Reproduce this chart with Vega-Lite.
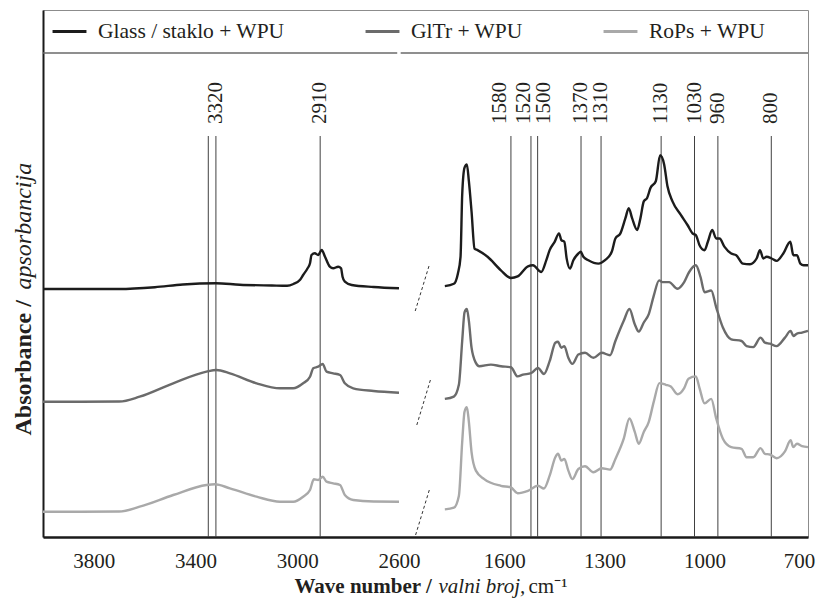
{
  "$schema": "https://vega.github.io/schema/vega-lite/v6.json",
  "width": 765,
  "height": 527,
  "autosize": {"type": "none"},
  "padding": {"left": 43, "top": 10, "right": 9, "bottom": 69},
  "background": "white",
  "config": {
    "font": "Liberation Serif",
    "view": {"stroke": "#8c8c8c", "strokeWidth": 1},
    "axis": {"grid": false, "ticks": false, "tickSize": 0, "labelFont": "Liberation Serif", "titleFont": "Liberation Serif", "labelColor": "#231f20", "titleColor": "#231f20", "titleFontSize": 21},
    "legend": {"orient": "none", "legendX": 8, "legendY": 3, "direction": "horizontal", "columns": 3, "columnPadding": 74, "symbolType": "stroke", "symbolSize": 1150, "symbolStrokeWidth": 3, "labelFont": "Liberation Serif", "labelFontSize": 21.5, "labelColor": "#231f20", "labelOffset": 10, "padding": 0, "labelLimit": 400}
  },
  "datasets": {
    "peaks": [
      {"wavenumber": 3350, "label": ""},
      {"wavenumber": 3320, "label": "3320"},
      {"wavenumber": 2910, "label": "2910"},
      {"wavenumber": 1580, "label": "1580"},
      {"wavenumber": 1520, "label": "1520"},
      {"wavenumber": 1500, "label": "1500"},
      {"wavenumber": 1370, "label": "1370"},
      {"wavenumber": 1310, "label": "1310"},
      {"wavenumber": 1130, "label": "1130"},
      {"wavenumber": 1030, "label": "1030"},
      {"wavenumber": 960, "label": "960"},
      {"wavenumber": 800, "label": "800"}
    ],
    "spectra": [
      {"sample": "Glass / staklo + WPU", "region": "L", "wavenumber": 4000, "absorbance": 248},
      {"sample": "Glass / staklo + WPU", "region": "L", "wavenumber": 3850, "absorbance": 248},
      {"sample": "Glass / staklo + WPU", "region": "L", "wavenumber": 3700, "absorbance": 248},
      {"sample": "Glass / staklo + WPU", "region": "L", "wavenumber": 3560, "absorbance": 249.8},
      {"sample": "Glass / staklo + WPU", "region": "L", "wavenumber": 3450, "absorbance": 252.5},
      {"sample": "Glass / staklo + WPU", "region": "L", "wavenumber": 3320, "absorbance": 253.7},
      {"sample": "Glass / staklo + WPU", "region": "L", "wavenumber": 3226, "absorbance": 252.3},
      {"sample": "Glass / staklo + WPU", "region": "L", "wavenumber": 3100, "absorbance": 251.5},
      {"sample": "Glass / staklo + WPU", "region": "L", "wavenumber": 3040, "absorbance": 251.2},
      {"sample": "Glass / staklo + WPU", "region": "L", "wavenumber": 3015, "absorbance": 253},
      {"sample": "Glass / staklo + WPU", "region": "L", "wavenumber": 2990, "absorbance": 257},
      {"sample": "Glass / staklo + WPU", "region": "L", "wavenumber": 2977, "absorbance": 262},
      {"sample": "Glass / staklo + WPU", "region": "L", "wavenumber": 2960, "absorbance": 268.5},
      {"sample": "Glass / staklo + WPU", "region": "L", "wavenumber": 2950, "absorbance": 273.7},
      {"sample": "Glass / staklo + WPU", "region": "L", "wavenumber": 2944, "absorbance": 282},
      {"sample": "Glass / staklo + WPU", "region": "L", "wavenumber": 2931, "absorbance": 283.7},
      {"sample": "Glass / staklo + WPU", "region": "L", "wavenumber": 2918, "absorbance": 282},
      {"sample": "Glass / staklo + WPU", "region": "L", "wavenumber": 2904, "absorbance": 287},
      {"sample": "Glass / staklo + WPU", "region": "L", "wavenumber": 2891, "absorbance": 280.3},
      {"sample": "Glass / staklo + WPU", "region": "L", "wavenumber": 2872, "absorbance": 270.3},
      {"sample": "Glass / staklo + WPU", "region": "L", "wavenumber": 2859, "absorbance": 268.7},
      {"sample": "Glass / staklo + WPU", "region": "L", "wavenumber": 2839, "absorbance": 270.3},
      {"sample": "Glass / staklo + WPU", "region": "L", "wavenumber": 2828, "absorbance": 268.7},
      {"sample": "Glass / staklo + WPU", "region": "L", "wavenumber": 2822, "absorbance": 260.3},
      {"sample": "Glass / staklo + WPU", "region": "L", "wavenumber": 2813, "absorbance": 255.3},
      {"sample": "Glass / staklo + WPU", "region": "L", "wavenumber": 2786, "absorbance": 252},
      {"sample": "Glass / staklo + WPU", "region": "L", "wavenumber": 2700, "absorbance": 250},
      {"sample": "Glass / staklo + WPU", "region": "L", "wavenumber": 2600, "absorbance": 248.7},
      {"sample": "Glass / staklo + WPU", "region": "R", "wavenumber": 1778, "absorbance": 250.9},
      {"sample": "Glass / staklo + WPU", "region": "R", "wavenumber": 1751, "absorbance": 253.2},
      {"sample": "Glass / staklo + WPU", "region": "R", "wavenumber": 1739, "absorbance": 263.3},
      {"sample": "Glass / staklo + WPU", "region": "R", "wavenumber": 1731, "absorbance": 280.2},
      {"sample": "Glass / staklo + WPU", "region": "R", "wavenumber": 1726, "absorbance": 342.3},
      {"sample": "Glass / staklo + WPU", "region": "R", "wavenumber": 1719, "absorbance": 369.3},
      {"sample": "Glass / staklo + WPU", "region": "R", "wavenumber": 1712, "absorbance": 372.6},
      {"sample": "Glass / staklo + WPU", "region": "R", "wavenumber": 1706, "absorbance": 355.8},
      {"sample": "Glass / staklo + WPU", "region": "R", "wavenumber": 1698, "absorbance": 325.5},
      {"sample": "Glass / staklo + WPU", "region": "R", "wavenumber": 1689, "absorbance": 288.4},
      {"sample": "Glass / staklo + WPU", "region": "R", "wavenumber": 1680, "absorbance": 286.9},
      {"sample": "Glass / staklo + WPU", "region": "R", "wavenumber": 1650, "absorbance": 280.2},
      {"sample": "Glass / staklo + WPU", "region": "R", "wavenumber": 1610, "absorbance": 266.7},
      {"sample": "Glass / staklo + WPU", "region": "R", "wavenumber": 1580, "absorbance": 259},
      {"sample": "Glass / staklo + WPU", "region": "R", "wavenumber": 1560, "absorbance": 260.6},
      {"sample": "Glass / staklo + WPU", "region": "R", "wavenumber": 1529, "absorbance": 270.7},
      {"sample": "Glass / staklo + WPU", "region": "R", "wavenumber": 1514, "absorbance": 271.7},
      {"sample": "Glass / staklo + WPU", "region": "R", "wavenumber": 1489, "absorbance": 265},
      {"sample": "Glass / staklo + WPU", "region": "R", "wavenumber": 1474, "absorbance": 276.8},
      {"sample": "Glass / staklo + WPU", "region": "R", "wavenumber": 1464, "absorbance": 286.9},
      {"sample": "Glass / staklo + WPU", "region": "R", "wavenumber": 1449, "absorbance": 295.2},
      {"sample": "Glass / staklo + WPU", "region": "R", "wavenumber": 1436, "absorbance": 303.6},
      {"sample": "Glass / staklo + WPU", "region": "R", "wavenumber": 1429, "absorbance": 296.9},
      {"sample": "Glass / staklo + WPU", "region": "R", "wavenumber": 1420, "absorbance": 295.2},
      {"sample": "Glass / staklo + WPU", "region": "R", "wavenumber": 1413, "absorbance": 278.4},
      {"sample": "Glass / staklo + WPU", "region": "R", "wavenumber": 1403, "absorbance": 268.4},
      {"sample": "Glass / staklo + WPU", "region": "R", "wavenumber": 1393, "absorbance": 276.8},
      {"sample": "Glass / staklo + WPU", "region": "R", "wavenumber": 1378, "absorbance": 283.5},
      {"sample": "Glass / staklo + WPU", "region": "R", "wavenumber": 1371, "absorbance": 285.2},
      {"sample": "Glass / staklo + WPU", "region": "R", "wavenumber": 1363, "absorbance": 280.2},
      {"sample": "Glass / staklo + WPU", "region": "R", "wavenumber": 1348, "absorbance": 276.8},
      {"sample": "Glass / staklo + WPU", "region": "R", "wavenumber": 1318, "absorbance": 273.4},
      {"sample": "Glass / staklo + WPU", "region": "R", "wavenumber": 1298, "absorbance": 276.8},
      {"sample": "Glass / staklo + WPU", "region": "R", "wavenumber": 1278, "absorbance": 285.2},
      {"sample": "Glass / staklo + WPU", "region": "R", "wavenumber": 1267, "absorbance": 298.5},
      {"sample": "Glass / staklo + WPU", "region": "R", "wavenumber": 1252, "absorbance": 303.6},
      {"sample": "Glass / staklo + WPU", "region": "R", "wavenumber": 1237, "absorbance": 318.8},
      {"sample": "Glass / staklo + WPU", "region": "R", "wavenumber": 1227, "absorbance": 328.9},
      {"sample": "Glass / staklo + WPU", "region": "R", "wavenumber": 1217, "absorbance": 318.8},
      {"sample": "Glass / staklo + WPU", "region": "R", "wavenumber": 1202, "absorbance": 307},
      {"sample": "Glass / staklo + WPU", "region": "R", "wavenumber": 1192, "absorbance": 318.8},
      {"sample": "Glass / staklo + WPU", "region": "R", "wavenumber": 1182, "absorbance": 335.6},
      {"sample": "Glass / staklo + WPU", "region": "R", "wavenumber": 1172, "absorbance": 339},
      {"sample": "Glass / staklo + WPU", "region": "R", "wavenumber": 1162, "absorbance": 349},
      {"sample": "Glass / staklo + WPU", "region": "R", "wavenumber": 1146, "absorbance": 355.8},
      {"sample": "Glass / staklo + WPU", "region": "R", "wavenumber": 1133, "absorbance": 381.7},
      {"sample": "Glass / staklo + WPU", "region": "R", "wavenumber": 1121, "absorbance": 372.6},
      {"sample": "Glass / staklo + WPU", "region": "R", "wavenumber": 1111, "absorbance": 350.7},
      {"sample": "Glass / staklo + WPU", "region": "R", "wavenumber": 1096, "absorbance": 335.6},
      {"sample": "Glass / staklo + WPU", "region": "R", "wavenumber": 1071, "absorbance": 322.1},
      {"sample": "Glass / staklo + WPU", "region": "R", "wavenumber": 1051, "absorbance": 312},
      {"sample": "Glass / staklo + WPU", "region": "R", "wavenumber": 1036, "absorbance": 303.6},
      {"sample": "Glass / staklo + WPU", "region": "R", "wavenumber": 1026, "absorbance": 301.9},
      {"sample": "Glass / staklo + WPU", "region": "R", "wavenumber": 1015, "absorbance": 291.8},
      {"sample": "Glass / staklo + WPU", "region": "R", "wavenumber": 1000, "absorbance": 286.8},
      {"sample": "Glass / staklo + WPU", "region": "R", "wavenumber": 990, "absorbance": 295.2},
      {"sample": "Glass / staklo + WPU", "region": "R", "wavenumber": 977, "absorbance": 307},
      {"sample": "Glass / staklo + WPU", "region": "R", "wavenumber": 965, "absorbance": 298.5},
      {"sample": "Glass / staklo + WPU", "region": "R", "wavenumber": 955, "absorbance": 298.5},
      {"sample": "Glass / staklo + WPU", "region": "R", "wavenumber": 940, "absorbance": 290.1},
      {"sample": "Glass / staklo + WPU", "region": "R", "wavenumber": 920, "absorbance": 283.4},
      {"sample": "Glass / staklo + WPU", "region": "R", "wavenumber": 905, "absorbance": 281.8},
      {"sample": "Glass / staklo + WPU", "region": "R", "wavenumber": 885, "absorbance": 273.4},
      {"sample": "Glass / staklo + WPU", "region": "R", "wavenumber": 864, "absorbance": 272.8},
      {"sample": "Glass / staklo + WPU", "region": "R", "wavenumber": 844, "absorbance": 278.5},
      {"sample": "Glass / staklo + WPU", "region": "R", "wavenumber": 834, "absorbance": 286.9},
      {"sample": "Glass / staklo + WPU", "region": "R", "wavenumber": 824, "absorbance": 278.5},
      {"sample": "Glass / staklo + WPU", "region": "R", "wavenumber": 814, "absorbance": 280.2},
      {"sample": "Glass / staklo + WPU", "region": "R", "wavenumber": 799, "absorbance": 278.5},
      {"sample": "Glass / staklo + WPU", "region": "R", "wavenumber": 784, "absorbance": 276.1},
      {"sample": "Glass / staklo + WPU", "region": "R", "wavenumber": 764, "absorbance": 283.5},
      {"sample": "Glass / staklo + WPU", "region": "R", "wavenumber": 743, "absorbance": 295.3},
      {"sample": "Glass / staklo + WPU", "region": "R", "wavenumber": 734, "absorbance": 281.8},
      {"sample": "Glass / staklo + WPU", "region": "R", "wavenumber": 723, "absorbance": 281.8},
      {"sample": "Glass / staklo + WPU", "region": "R", "wavenumber": 713, "absorbance": 273.4},
      {"sample": "Glass / staklo + WPU", "region": "R", "wavenumber": 703, "absorbance": 271.7},
      {"sample": "Glass / staklo + WPU", "region": "R", "wavenumber": 690, "absorbance": 271.7},

      {"sample": "GlTr + WPU", "region": "L", "wavenumber": 4000, "absorbance": 135.3},
      {"sample": "GlTr + WPU", "region": "L", "wavenumber": 3850, "absorbance": 135.3},
      {"sample": "GlTr + WPU", "region": "L", "wavenumber": 3700, "absorbance": 135.5},
      {"sample": "GlTr + WPU", "region": "L", "wavenumber": 3620, "absorbance": 140.3},
      {"sample": "GlTr + WPU", "region": "L", "wavenumber": 3488, "absorbance": 153.7},
      {"sample": "GlTr + WPU", "region": "L", "wavenumber": 3357, "absorbance": 165.3},
      {"sample": "GlTr + WPU", "region": "L", "wavenumber": 3318, "absorbance": 167},
      {"sample": "GlTr + WPU", "region": "L", "wavenumber": 3265, "absorbance": 163.7},
      {"sample": "GlTr + WPU", "region": "L", "wavenumber": 3160, "absorbance": 153.7},
      {"sample": "GlTr + WPU", "region": "L", "wavenumber": 3068, "absorbance": 148.7},
      {"sample": "GlTr + WPU", "region": "L", "wavenumber": 3016, "absorbance": 148.7},
      {"sample": "GlTr + WPU", "region": "L", "wavenumber": 2977, "absorbance": 153.7},
      {"sample": "GlTr + WPU", "region": "L", "wavenumber": 2950, "absorbance": 160.3},
      {"sample": "GlTr + WPU", "region": "L", "wavenumber": 2937, "absorbance": 168.7},
      {"sample": "GlTr + WPU", "region": "L", "wavenumber": 2918, "absorbance": 170.3},
      {"sample": "GlTr + WPU", "region": "L", "wavenumber": 2900, "absorbance": 173},
      {"sample": "GlTr + WPU", "region": "L", "wavenumber": 2885, "absorbance": 165.3},
      {"sample": "GlTr + WPU", "region": "L", "wavenumber": 2859, "absorbance": 163.7},
      {"sample": "GlTr + WPU", "region": "L", "wavenumber": 2832, "absorbance": 162},
      {"sample": "GlTr + WPU", "region": "L", "wavenumber": 2813, "absorbance": 153.7},
      {"sample": "GlTr + WPU", "region": "L", "wavenumber": 2780, "absorbance": 148.7},
      {"sample": "GlTr + WPU", "region": "L", "wavenumber": 2700, "absorbance": 146},
      {"sample": "GlTr + WPU", "region": "L", "wavenumber": 2600, "absorbance": 144.3},
      {"sample": "GlTr + WPU", "region": "R", "wavenumber": 1778, "absorbance": 138.1},
      {"sample": "GlTr + WPU", "region": "R", "wavenumber": 1751, "absorbance": 140.4},
      {"sample": "GlTr + WPU", "region": "R", "wavenumber": 1736, "absorbance": 152.2},
      {"sample": "GlTr + WPU", "region": "R", "wavenumber": 1726, "absorbance": 196},
      {"sample": "GlTr + WPU", "region": "R", "wavenumber": 1719, "absorbance": 224.6},
      {"sample": "GlTr + WPU", "region": "R", "wavenumber": 1712, "absorbance": 228},
      {"sample": "GlTr + WPU", "region": "R", "wavenumber": 1706, "absorbance": 216.2},
      {"sample": "GlTr + WPU", "region": "R", "wavenumber": 1698, "absorbance": 189.3},
      {"sample": "GlTr + WPU", "region": "R", "wavenumber": 1685, "absorbance": 174.1},
      {"sample": "GlTr + WPU", "region": "R", "wavenumber": 1675, "absorbance": 170.7},
      {"sample": "GlTr + WPU", "region": "R", "wavenumber": 1640, "absorbance": 172.4},
      {"sample": "GlTr + WPU", "region": "R", "wavenumber": 1610, "absorbance": 170.7},
      {"sample": "GlTr + WPU", "region": "R", "wavenumber": 1580, "absorbance": 169.7},
      {"sample": "GlTr + WPU", "region": "R", "wavenumber": 1560, "absorbance": 160.6},
      {"sample": "GlTr + WPU", "region": "R", "wavenumber": 1544, "absorbance": 162.3},
      {"sample": "GlTr + WPU", "region": "R", "wavenumber": 1519, "absorbance": 164},
      {"sample": "GlTr + WPU", "region": "R", "wavenumber": 1499, "absorbance": 169},
      {"sample": "GlTr + WPU", "region": "R", "wavenumber": 1481, "absorbance": 163},
      {"sample": "GlTr + WPU", "region": "R", "wavenumber": 1464, "absorbance": 175.8},
      {"sample": "GlTr + WPU", "region": "R", "wavenumber": 1447, "absorbance": 194.3},
      {"sample": "GlTr + WPU", "region": "R", "wavenumber": 1439, "absorbance": 195.3},
      {"sample": "GlTr + WPU", "region": "R", "wavenumber": 1429, "absorbance": 189.3},
      {"sample": "GlTr + WPU", "region": "R", "wavenumber": 1420, "absorbance": 190.9},
      {"sample": "GlTr + WPU", "region": "R", "wavenumber": 1408, "absorbance": 179.2},
      {"sample": "GlTr + WPU", "region": "R", "wavenumber": 1396, "absorbance": 173.1},
      {"sample": "GlTr + WPU", "region": "R", "wavenumber": 1378, "absorbance": 182.5},
      {"sample": "GlTr + WPU", "region": "R", "wavenumber": 1358, "absorbance": 184.2},
      {"sample": "GlTr + WPU", "region": "R", "wavenumber": 1333, "absorbance": 179.2},
      {"sample": "GlTr + WPU", "region": "R", "wavenumber": 1308, "absorbance": 184.2},
      {"sample": "GlTr + WPU", "region": "R", "wavenumber": 1283, "absorbance": 181.8},
      {"sample": "GlTr + WPU", "region": "R", "wavenumber": 1267, "absorbance": 196},
      {"sample": "GlTr + WPU", "region": "R", "wavenumber": 1242, "absorbance": 216.2},
      {"sample": "GlTr + WPU", "region": "R", "wavenumber": 1225, "absorbance": 228},
      {"sample": "GlTr + WPU", "region": "R", "wavenumber": 1209, "absorbance": 212.8},
      {"sample": "GlTr + WPU", "region": "R", "wavenumber": 1197, "absorbance": 205.4},
      {"sample": "GlTr + WPU", "region": "R", "wavenumber": 1182, "absorbance": 214.5},
      {"sample": "GlTr + WPU", "region": "R", "wavenumber": 1167, "absorbance": 222.9},
      {"sample": "GlTr + WPU", "region": "R", "wavenumber": 1152, "absorbance": 241.4},
      {"sample": "GlTr + WPU", "region": "R", "wavenumber": 1136, "absorbance": 256.6},
      {"sample": "GlTr + WPU", "region": "R", "wavenumber": 1126, "absorbance": 254.9},
      {"sample": "GlTr + WPU", "region": "R", "wavenumber": 1106, "absorbance": 254.9},
      {"sample": "GlTr + WPU", "region": "R", "wavenumber": 1081, "absorbance": 248.2},
      {"sample": "GlTr + WPU", "region": "R", "wavenumber": 1061, "absorbance": 254.9},
      {"sample": "GlTr + WPU", "region": "R", "wavenumber": 1046, "absorbance": 265},
      {"sample": "GlTr + WPU", "region": "R", "wavenumber": 1026, "absorbance": 271.7},
      {"sample": "GlTr + WPU", "region": "R", "wavenumber": 1012, "absorbance": 260},
      {"sample": "GlTr + WPU", "region": "R", "wavenumber": 1000, "absorbance": 244.8},
      {"sample": "GlTr + WPU", "region": "R", "wavenumber": 980, "absorbance": 246.5},
      {"sample": "GlTr + WPU", "region": "R", "wavenumber": 965, "absorbance": 229.7},
      {"sample": "GlTr + WPU", "region": "R", "wavenumber": 945, "absorbance": 209.5},
      {"sample": "GlTr + WPU", "region": "R", "wavenumber": 920, "absorbance": 197.7},
      {"sample": "GlTr + WPU", "region": "R", "wavenumber": 889, "absorbance": 196},
      {"sample": "GlTr + WPU", "region": "R", "wavenumber": 874, "absorbance": 190.9},
      {"sample": "GlTr + WPU", "region": "R", "wavenumber": 854, "absorbance": 189.9},
      {"sample": "GlTr + WPU", "region": "R", "wavenumber": 832, "absorbance": 199.4},
      {"sample": "GlTr + WPU", "region": "R", "wavenumber": 819, "absorbance": 194.3},
      {"sample": "GlTr + WPU", "region": "R", "wavenumber": 804, "absorbance": 193.3},
      {"sample": "GlTr + WPU", "region": "R", "wavenumber": 784, "absorbance": 190.9},
      {"sample": "GlTr + WPU", "region": "R", "wavenumber": 759, "absorbance": 199.4},
      {"sample": "GlTr + WPU", "region": "R", "wavenumber": 742, "absorbance": 206.1},
      {"sample": "GlTr + WPU", "region": "R", "wavenumber": 734, "absorbance": 201},
      {"sample": "GlTr + WPU", "region": "R", "wavenumber": 723, "absorbance": 203.4},
      {"sample": "GlTr + WPU", "region": "R", "wavenumber": 708, "absorbance": 204.4},
      {"sample": "GlTr + WPU", "region": "R", "wavenumber": 690, "absorbance": 206.1},

      {"sample": "RoPs + WPU", "region": "L", "wavenumber": 4000, "absorbance": 25.3},
      {"sample": "RoPs + WPU", "region": "L", "wavenumber": 3850, "absorbance": 25.3},
      {"sample": "RoPs + WPU", "region": "L", "wavenumber": 3700, "absorbance": 25.5},
      {"sample": "RoPs + WPU", "region": "L", "wavenumber": 3620, "absorbance": 30.3},
      {"sample": "RoPs + WPU", "region": "L", "wavenumber": 3488, "absorbance": 42},
      {"sample": "RoPs + WPU", "region": "L", "wavenumber": 3357, "absorbance": 52},
      {"sample": "RoPs + WPU", "region": "L", "wavenumber": 3324, "absorbance": 52.7},
      {"sample": "RoPs + WPU", "region": "L", "wavenumber": 3265, "absorbance": 48.7},
      {"sample": "RoPs + WPU", "region": "L", "wavenumber": 3160, "absorbance": 40.3},
      {"sample": "RoPs + WPU", "region": "L", "wavenumber": 3068, "absorbance": 35.3},
      {"sample": "RoPs + WPU", "region": "L", "wavenumber": 3016, "absorbance": 35.3},
      {"sample": "RoPs + WPU", "region": "L", "wavenumber": 2977, "absorbance": 40.3},
      {"sample": "RoPs + WPU", "region": "L", "wavenumber": 2950, "absorbance": 47},
      {"sample": "RoPs + WPU", "region": "L", "wavenumber": 2935, "absorbance": 57.7},
      {"sample": "RoPs + WPU", "region": "L", "wavenumber": 2918, "absorbance": 57},
      {"sample": "RoPs + WPU", "region": "L", "wavenumber": 2900, "absorbance": 60.3},
      {"sample": "RoPs + WPU", "region": "L", "wavenumber": 2885, "absorbance": 55.3},
      {"sample": "RoPs + WPU", "region": "L", "wavenumber": 2859, "absorbance": 53.7},
      {"sample": "RoPs + WPU", "region": "L", "wavenumber": 2832, "absorbance": 52},
      {"sample": "RoPs + WPU", "region": "L", "wavenumber": 2813, "absorbance": 42},
      {"sample": "RoPs + WPU", "region": "L", "wavenumber": 2780, "absorbance": 37},
      {"sample": "RoPs + WPU", "region": "L", "wavenumber": 2700, "absorbance": 35.5},
      {"sample": "RoPs + WPU", "region": "L", "wavenumber": 2600, "absorbance": 35.3},
      {"sample": "RoPs + WPU", "region": "R", "wavenumber": 1778, "absorbance": 27.6},
      {"sample": "RoPs + WPU", "region": "R", "wavenumber": 1751, "absorbance": 29.3},
      {"sample": "RoPs + WPU", "region": "R", "wavenumber": 1736, "absorbance": 41.1},
      {"sample": "RoPs + WPU", "region": "R", "wavenumber": 1726, "absorbance": 95},
      {"sample": "RoPs + WPU", "region": "R", "wavenumber": 1719, "absorbance": 125.3},
      {"sample": "RoPs + WPU", "region": "R", "wavenumber": 1712, "absorbance": 129.7},
      {"sample": "RoPs + WPU", "region": "R", "wavenumber": 1706, "absorbance": 115.2},
      {"sample": "RoPs + WPU", "region": "R", "wavenumber": 1698, "absorbance": 84.9},
      {"sample": "RoPs + WPU", "region": "R", "wavenumber": 1685, "absorbance": 66.4},
      {"sample": "RoPs + WPU", "region": "R", "wavenumber": 1660, "absorbance": 57.9},
      {"sample": "RoPs + WPU", "region": "R", "wavenumber": 1610, "absorbance": 51.2},
      {"sample": "RoPs + WPU", "region": "R", "wavenumber": 1580, "absorbance": 49.5},
      {"sample": "RoPs + WPU", "region": "R", "wavenumber": 1560, "absorbance": 43.8},
      {"sample": "RoPs + WPU", "region": "R", "wavenumber": 1529, "absorbance": 46.2},
      {"sample": "RoPs + WPU", "region": "R", "wavenumber": 1499, "absorbance": 51.2},
      {"sample": "RoPs + WPU", "region": "R", "wavenumber": 1481, "absorbance": 48.5},
      {"sample": "RoPs + WPU", "region": "R", "wavenumber": 1464, "absorbance": 61.3},
      {"sample": "RoPs + WPU", "region": "R", "wavenumber": 1447, "absorbance": 79.8},
      {"sample": "RoPs + WPU", "region": "R", "wavenumber": 1439, "absorbance": 83.2},
      {"sample": "RoPs + WPU", "region": "R", "wavenumber": 1429, "absorbance": 76.5},
      {"sample": "RoPs + WPU", "region": "R", "wavenumber": 1420, "absorbance": 78.1},
      {"sample": "RoPs + WPU", "region": "R", "wavenumber": 1408, "absorbance": 66.4},
      {"sample": "RoPs + WPU", "region": "R", "wavenumber": 1396, "absorbance": 57.9},
      {"sample": "RoPs + WPU", "region": "R", "wavenumber": 1378, "absorbance": 68},
      {"sample": "RoPs + WPU", "region": "R", "wavenumber": 1358, "absorbance": 70.7},
      {"sample": "RoPs + WPU", "region": "R", "wavenumber": 1333, "absorbance": 64.7},
      {"sample": "RoPs + WPU", "region": "R", "wavenumber": 1308, "absorbance": 68.7},
      {"sample": "RoPs + WPU", "region": "R", "wavenumber": 1283, "absorbance": 67.4},
      {"sample": "RoPs + WPU", "region": "R", "wavenumber": 1267, "absorbance": 78.1},
      {"sample": "RoPs + WPU", "region": "R", "wavenumber": 1242, "absorbance": 98.3},
      {"sample": "RoPs + WPU", "region": "R", "wavenumber": 1225, "absorbance": 118.5},
      {"sample": "RoPs + WPU", "region": "R", "wavenumber": 1209, "absorbance": 105.1},
      {"sample": "RoPs + WPU", "region": "R", "wavenumber": 1197, "absorbance": 93.3},
      {"sample": "RoPs + WPU", "region": "R", "wavenumber": 1182, "absorbance": 105.1},
      {"sample": "RoPs + WPU", "region": "R", "wavenumber": 1167, "absorbance": 115.2},
      {"sample": "RoPs + WPU", "region": "R", "wavenumber": 1152, "absorbance": 135.4},
      {"sample": "RoPs + WPU", "region": "R", "wavenumber": 1135, "absorbance": 153.9},
      {"sample": "RoPs + WPU", "region": "R", "wavenumber": 1116, "absorbance": 152.2},
      {"sample": "RoPs + WPU", "region": "R", "wavenumber": 1101, "absorbance": 150.5},
      {"sample": "RoPs + WPU", "region": "R", "wavenumber": 1081, "absorbance": 142.8},
      {"sample": "RoPs + WPU", "region": "R", "wavenumber": 1061, "absorbance": 148.9},
      {"sample": "RoPs + WPU", "region": "R", "wavenumber": 1048, "absorbance": 158.3},
      {"sample": "RoPs + WPU", "region": "R", "wavenumber": 1026, "absorbance": 160.6},
      {"sample": "RoPs + WPU", "region": "R", "wavenumber": 1015, "absorbance": 148.9},
      {"sample": "RoPs + WPU", "region": "R", "wavenumber": 1000, "absorbance": 133.7},
      {"sample": "RoPs + WPU", "region": "R", "wavenumber": 980, "absorbance": 138.1},
      {"sample": "RoPs + WPU", "region": "R", "wavenumber": 965, "absorbance": 118.5},
      {"sample": "RoPs + WPU", "region": "R", "wavenumber": 945, "absorbance": 98.3},
      {"sample": "RoPs + WPU", "region": "R", "wavenumber": 920, "absorbance": 89.9},
      {"sample": "RoPs + WPU", "region": "R", "wavenumber": 889, "absorbance": 88.2},
      {"sample": "RoPs + WPU", "region": "R", "wavenumber": 874, "absorbance": 79.8},
      {"sample": "RoPs + WPU", "region": "R", "wavenumber": 854, "absorbance": 79.8},
      {"sample": "RoPs + WPU", "region": "R", "wavenumber": 832, "absorbance": 88.9},
      {"sample": "RoPs + WPU", "region": "R", "wavenumber": 819, "absorbance": 83.2},
      {"sample": "RoPs + WPU", "region": "R", "wavenumber": 804, "absorbance": 82.5},
      {"sample": "RoPs + WPU", "region": "R", "wavenumber": 784, "absorbance": 78.8},
      {"sample": "RoPs + WPU", "region": "R", "wavenumber": 759, "absorbance": 85.6},
      {"sample": "RoPs + WPU", "region": "R", "wavenumber": 742, "absorbance": 96.7},
      {"sample": "RoPs + WPU", "region": "R", "wavenumber": 734, "absorbance": 89.9},
      {"sample": "RoPs + WPU", "region": "R", "wavenumber": 723, "absorbance": 93.3},
      {"sample": "RoPs + WPU", "region": "R", "wavenumber": 708, "absorbance": 90.9},
      {"sample": "RoPs + WPU", "region": "R", "wavenumber": 690, "absorbance": 89.9}
    ]
  },
  "layer": [
    {
      "data": {"name": "peaks"},
      "mark": {"type": "rule", "color": "#404040", "strokeWidth": 1},
      "encoding": {
        "x": {"field": "wavenumber", "type": "quantitative",
          "axis": {"orient": "bottom", "labels": false, "domain": false, "title": "valni broj,", "titleFontStyle": "italic", "titleFontWeight": "normal", "titleX": 395, "titleY": 55, "titleAlign": "left", "titleBaseline": "alphabetic"}},
        "y": {"datum": 401,
          "axis": {"orient": "left", "labels": false, "domain": false, "title": "apsorbancija", "titleFontStyle": "italic", "titleFontWeight": "normal", "titleFontSize": 24, "titleAngle": 270, "titleX": -12.6, "titleY": 279, "titleAlign": "left", "titleBaseline": "alphabetic"}},
        "y2": {"datum": 0}
      }
    },
    {
      "data": {"name": "peaks"},
      "transform": [{"filter": "datum.label !== '' && datum.label !== '1580' && datum.label !== '1520' && datum.label !== '1500'"}],
      "mark": {"type": "text", "angle": 270, "align": "left", "baseline": "middle", "fontSize": 21, "color": "#231f20", "font": "Liberation Serif"},
      "encoding": {
        "x": {"field": "wavenumber", "type": "quantitative",
          "axis": {"orient": "bottom", "labels": false, "domain": false, "title": "cm⁻¹", "titleFontWeight": "normal", "titleX": 485, "titleY": 55, "titleAlign": "left", "titleBaseline": "alphabetic"}},
        "y": {"datum": 413, "axis": null},
        "text": {"field": "label"}
      }
    },
    {
      "data": {"name": "peaks"},
      "transform": [{"filter": "datum.label === '1580'"}],
      "mark": {"type": "text", "angle": 270, "align": "left", "baseline": "middle", "fontSize": 21, "color": "#231f20", "font": "Liberation Serif", "dy": -11},
      "encoding": {
        "x": {"field": "wavenumber", "type": "quantitative", "axis": null},
        "y": {"datum": 413, "axis": null},
        "text": {"field": "label"}
      }
    },
    {
      "data": {"name": "peaks"},
      "transform": [{"filter": "datum.label === '1520'"}],
      "mark": {"type": "text", "angle": 270, "align": "left", "baseline": "middle", "fontSize": 21, "color": "#231f20", "font": "Liberation Serif", "dy": -6.5},
      "encoding": {
        "x": {"field": "wavenumber", "type": "quantitative", "axis": null},
        "y": {"datum": 413, "axis": null},
        "text": {"field": "label"}
      }
    },
    {
      "data": {"name": "peaks"},
      "transform": [{"filter": "datum.label === '1500'"}],
      "mark": {"type": "text", "angle": 270, "align": "left", "baseline": "middle", "fontSize": 21, "color": "#231f20", "font": "Liberation Serif", "dy": 6},
      "encoding": {
        "x": {"field": "wavenumber", "type": "quantitative", "axis": null},
        "y": {"datum": 413, "axis": null},
        "text": {"field": "label"}
      }
    },
    {
      "data": {"name": "spectra"},
      "mark": {"type": "line", "interpolate": "monotone", "strokeWidth": 2.4},
      "encoding": {
        "x": {"field": "wavenumber", "type": "quantitative",
          "scale": {"domain": [4000, 2600, 1800, 690], "range": [0, 356, 394.5, 765], "nice": false, "zero": false},
          "axis": {"orient": "bottom", "values": [3800, 3400, 3000, 2600, 1600, 1300, 1000, 700], "format": "d", "labelFontSize": 21, "labelPadding": 13, "labelFlush": 5, "labelFlushOffset": 10, "labelOverlap": false, "domain": true, "domainColor": "#1a1a1a", "domainWidth": 2.5, "title": "Wave number /", "titleFontWeight": "bold", "titleX": 251, "titleY": 55, "titleAlign": "left", "titleBaseline": "alphabetic"}},
        "y": {"field": "absorbance", "type": "quantitative",
          "scale": {"domain": [0, 527], "nice": false, "zero": false},
          "axis": {"orient": "left", "labels": false, "domain": true, "domainColor": "#1a1a1a", "domainWidth": 2, "title": "Absorbance /", "titleFontWeight": "bold", "titleFontSize": 24, "titleAngle": 270, "titleX": -12.6, "titleY": 425, "titleAlign": "left", "titleBaseline": "alphabetic"}},
        "color": {"field": "sample", "type": "nominal",
          "scale": {"domain": ["Glass / staklo + WPU", "GlTr + WPU", "RoPs + WPU"], "range": ["#1c1c1c", "#6b6b6b", "#a9a9a9"]},
          "legend": {"title": null}},
        "detail": {"field": "region"}
      }
    },
    {
      "data": {"values": [{}]},
      "mark": {"type": "rule", "color": "#333333", "strokeWidth": 1, "strokeDash": [3, 2.5]},
      "encoding": {"x": {"datum": 2263, "axis": null}, "x2": {"datum": 1964}, "y": {"datum": 226, "axis": null}, "y2": {"datum": 273}}
    },
    {
      "data": {"values": [{}]},
      "mark": {"type": "rule", "color": "#333333", "strokeWidth": 1, "strokeDash": [3, 2.5]},
      "encoding": {"x": {"datum": 2230, "axis": null}, "x2": {"datum": 1935}, "y": {"datum": 112, "axis": null}, "y2": {"datum": 159}}
    },
    {
      "data": {"values": [{}]},
      "mark": {"type": "rule", "color": "#333333", "strokeWidth": 1, "strokeDash": [3, 2.5]},
      "encoding": {"x": {"datum": 2255, "axis": null}, "x2": {"datum": 1964}, "y": {"datum": 2, "axis": null}, "y2": {"datum": 48}}
    },
    {
      "data": {"values": [{}]},
      "mark": {"type": "rule", "color": "#6a6a6a", "strokeWidth": 1.5},
      "encoding": {"x": {"datum": 4000, "axis": null}, "x2": {"datum": 2607}, "y": {"datum": 484, "axis": null}}
    },
    {
      "data": {"values": [{}]},
      "mark": {"type": "rule", "color": "#6a6a6a", "strokeWidth": 1.5},
      "encoding": {"x": {"datum": 2565, "axis": null}, "x2": {"datum": 690}, "y": {"datum": 484, "axis": null}}
    }
  ],
  "resolve": {"axis": {"x": "independent", "y": "independent"}}
}
